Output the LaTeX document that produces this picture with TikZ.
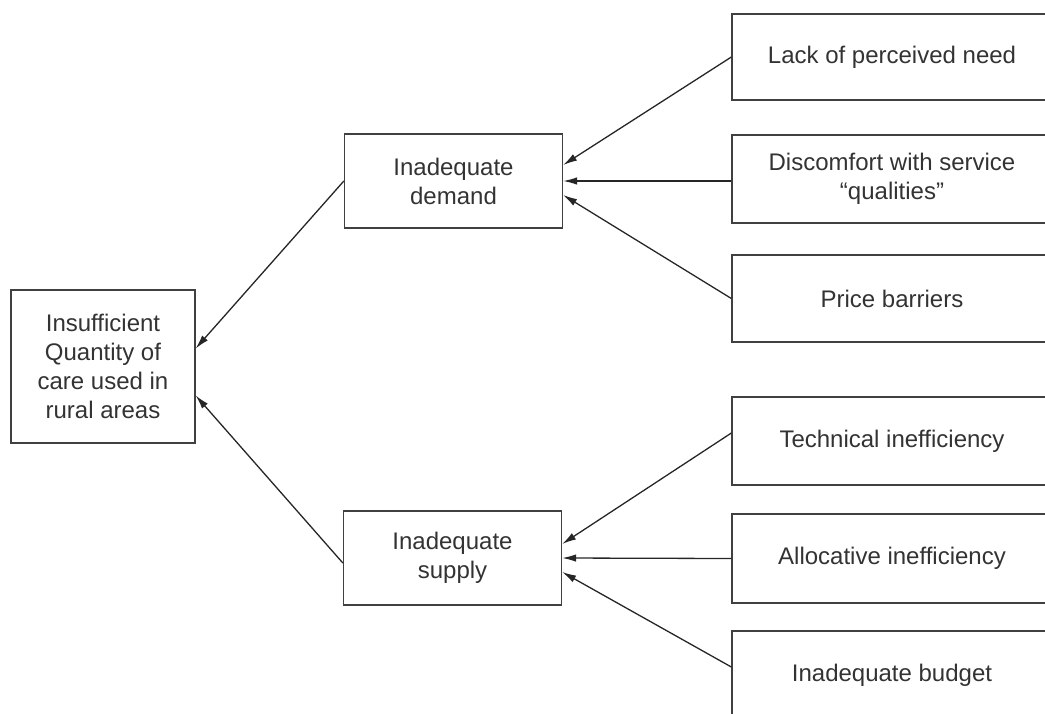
\documentclass[tikz,border=0pt]{standalone}
\usepackage{fontspec}
\setmainfont{Liberation Sans}
\usetikzlibrary{positioning,arrows.meta}

\tikzset{
  box/.style={rectangle, draw=black!75, line width=1.3pt, text=black!80,
    align=center, inner sep=0pt,
    font=\fontsize{24}{29}\selectfont},
  causebox/.style={box, minimum width=320pt, minimum height=88pt},
  midbox/.style={box, minimum width=218pt, minimum height=94pt},
  link/.style={->, draw=black!85, line width=1.3pt}
}

\begin{document}
\begin{tikzpicture}[x=1pt, y=-1pt, >={Latex[length=14pt,width=7.5pt]}]
\clip (0,0) rectangle (1045,713);
\useasboundingbox (0,0) rectangle (1045,713);

% effect
\path
(103,366.5) node[box, minimum width=184pt, minimum height=153pt] (care)
  {Insufficient\\Quantity of\\care used in\\rural areas}
(453.5,181) node[midbox] (demand) {Inadequate\\demand}
(452.5,558) node[midbox] (supply) {Inadequate\\supply};

% demand side
\path
(892,57)    node[causebox, minimum height=86pt] (need) {Lack of perceived need}
(892,179)   node[causebox] (comfort) {Discomfort with service\\``qualities''}
(892,298.5) node[causebox, minimum height=87pt] (price) {Price barriers};

\draw[link] (need.west)    -- ([yshift=16pt]demand.east);
\draw[link] ([yshift=-2pt]comfort.west) -- (demand.east);
\draw[link] (price.west)   -- ([yshift=-14pt]demand.east);
% end demand side

% supply side
\path
(892,441)   node[causebox] (technical) {Technical inefficiency}
(892,558.5) node[causebox, minimum height=89pt] (allocative) {Allocative inefficiency}
(892,675)   node[causebox] (budget) {Inadequate budget};

\draw[link] ([yshift=8pt]technical.west) -- ([yshift=14pt]supply.east);
\draw[link] (allocative.west) -- (supply.east);
\draw[link] ([yshift=8pt]budget.west) -- ([yshift=-14pt]supply.east);
% end supply side

\draw[link] (demand.west) -- ([yshift=18pt]care.east);
\draw[link] ([yshift=-5pt]supply.west) -- ([yshift=-29pt]care.east);

\end{tikzpicture}
\end{document}
